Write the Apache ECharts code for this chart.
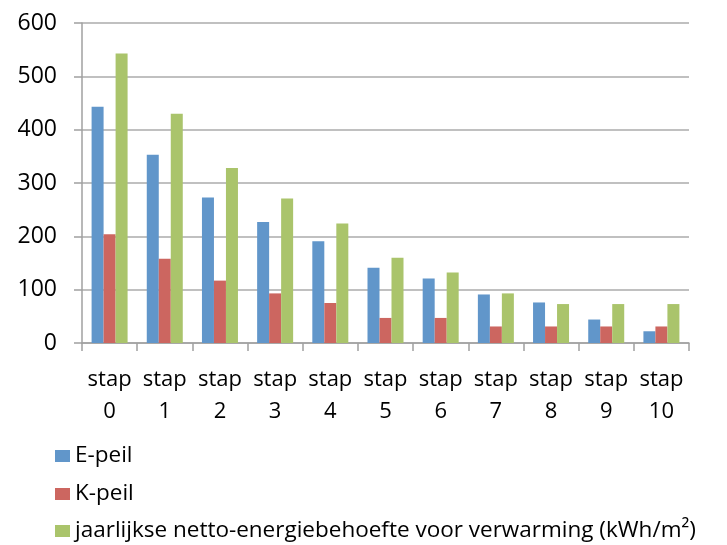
<!DOCTYPE html>
<html>
<head>
<meta charset="utf-8">
<script src="https://cdn.jsdelivr.net/npm/echarts@6/dist/echarts.min.js"></script>
<style>html,body{margin:0;padding:0;background:#fff}#c{width:727px;height:545px}</style>
</head>
<body>
<div id="c"></div>
<script>
const categories = ['stap 0','stap 1','stap 2','stap 3','stap 4','stap 5','stap 6','stap 7','stap 8','stap 9','stap 10'];
const seriesNames = ['E-peil','K-peil','jaarlijkse netto-energiebehoefte voor verwarming (kWh/m²)'];
const ePeil = [443, 353, 273, 227, 191, 141, 121, 91, 76, 44, 22];
const kPeil = [204, 158, 117, 93, 75, 47, 47, 31, 31, 31, 31];
const nettoEnergie = [543, 430, 328, 271, 224, 160, 132, 93, 73, 73, 73];
const yTicks = [0, 100, 200, 300, 400, 500, 600];

const colors = ['#6196CA', '#CC6660', '#AAC46B'];
const font = '"Open Sans", "Noto Sans", sans-serif';
const chart = echarts.init(document.getElementById('c'), null, {renderer: 'canvas'});
const values = [ePeil, kPeil, nettoEnergie];
const legendTops = [438, 476, 513];
chart.setOption({
  animation: false,
  color: colors,
  grid: {left: 82, right: 38, top: 23, bottom: 202, containLabel: false},
  legend: seriesNames.map((n, i) => ({
    orient: 'vertical', left: 50, top: legendTops[i],
    itemWidth: 15, itemHeight: 12, itemGap: 0,
    icon: 'rect', selectedMode: false,
    textStyle: {fontFamily: font, fontSize: 22.5, color: '#000', lineHeight: 26},
    data: [n]
  })),
  xAxis: {
    type: 'category', data: categories,
    axisLine: {lineStyle: {color: '#A0A0A0', width: 1.5}},
    axisTick: {show: true, length: 8, lineStyle: {color: '#A0A0A0', width: 1.5}},
    axisLabel: {
      fontFamily: font, fontSize: 22, color: '#000', lineHeight: 32, margin: 21,
      interval: 0, formatter: v => v.replace(' ', '\n')
    }
  },
  yAxis: {
    type: 'value', min: yTicks[0], max: yTicks[yTicks.length - 1], interval: 100,
    axisLine: {show: true, lineStyle: {color: '#A0A0A0', width: 1.5}},
    axisTick: {show: true, length: 8, lineStyle: {color: '#A0A0A0', width: 1.5}},
    splitLine: {lineStyle: {color: '#ABABAB', width: 1.5}},
    axisLabel: {fontFamily: font, fontSize: 23, color: '#000', margin: 25}
  },
  series: seriesNames.map((n, i) => ({
    name: n, type: 'bar', data: values[i],
    barWidth: 12, barGap: '0%',
    itemStyle: {color: colors[i]}
  }))
});
</script>
</body>
</html>
